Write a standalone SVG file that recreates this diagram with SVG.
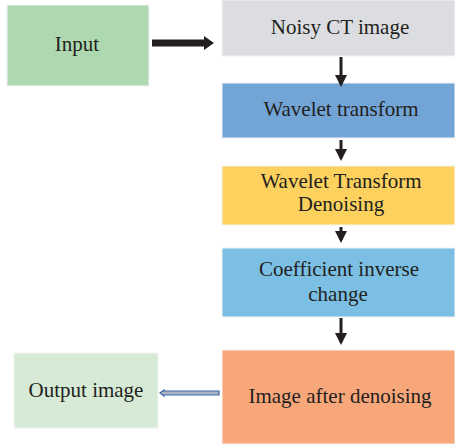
<svg xmlns="http://www.w3.org/2000/svg" width="455" height="447" viewBox="0 0 455 447">
<style>
text{font-family:"Liberation Serif","DejaVu Serif",serif;font-size:21px;fill:#231f20;text-anchor:middle}
.b{stroke:#f4f4f4;stroke-width:1}
.v{stroke:#231f20;stroke-width:3;fill:none}
</style>
<defs>
<marker id="ah" markerWidth="4" markerHeight="4" refX="3" refY="2" orient="auto" markerUnits="strokeWidth"><path d="M0,0 L4,2 L0,4 Z" fill="#231f20"/></marker>
</defs>
<rect width="455" height="447" fill="#fff"/>
<g id="input"><rect class="b" x="7" y="5" width="142" height="81" fill="#aed9b0"/><text x="77" y="51">Input</text></g>
<g id="noisy"><rect class="b" x="222" y="0" width="233" height="56" fill="#dcdde0"/><text x="340" y="34">Noisy CT image</text></g>
<g id="wavelet"><rect class="b" x="222" y="83" width="233" height="55" fill="#72a5d6"/><text x="341" y="116">Wavelet transform</text></g>
<g id="wtd"><rect class="b" x="222" y="166" width="233" height="59" fill="#fdd15e"/><text x="341" y="188">Wavelet Transform</text><text x="341" y="211">Denoising</text></g>
<g id="coef"><rect class="b" x="222" y="248" width="233" height="69" fill="#7bbfe4"/><text x="339" y="276">Coefficient inverse</text><text x="338" y="301">change</text></g>
<g id="after"><rect class="b" x="222" y="350" width="233" height="94" fill="#f8a77b"/><text x="340" y="403">Image after denoising</text></g>
<g id="output"><rect class="b" x="14" y="353" width="144" height="75" fill="#d6ead5"/><text x="86" y="397">Output image</text></g>
<g id="connectors">
<line x1="152" y1="43" x2="205" y2="43" stroke="#231f20" stroke-width="7"/>
<path d="M204,36 L214,43 L204,50 Z" fill="#231f20"/>
<line class="v" x1="341" y1="57" x2="341" y2="84" marker-end="url(#ah)"/>
<line class="v" x1="341" y1="140" x2="341" y2="158" marker-end="url(#ah)"/>
<line class="v" x1="341" y1="227" x2="341" y2="240" marker-end="url(#ah)"/>
<line class="v" x1="341" y1="318" x2="341" y2="342" marker-end="url(#ah)"/>
<path d="M219,391 L164,391 L164,390 L160,393 L164,396 L164,395 L219,395 Z" fill="#a9b3c2" stroke="#3a68a3" stroke-width="1.2"/>
</g>
</svg>
